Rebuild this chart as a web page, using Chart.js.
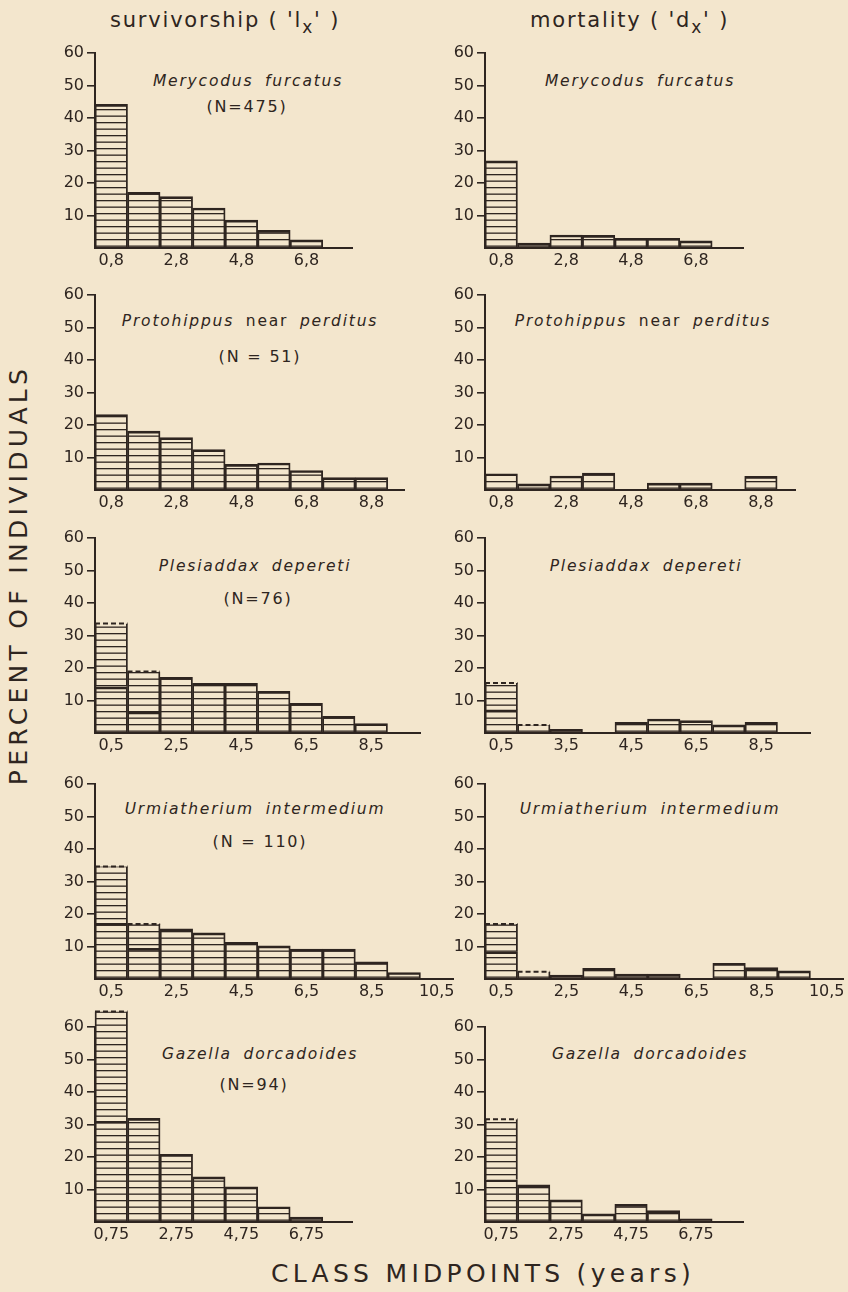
<!DOCTYPE html>
<html><head><meta charset="utf-8">
<script src="https://cdn.jsdelivr.net/npm/chart.js@4.4.1/dist/chart.umd.min.js"></script>
<style>
html,body{margin:0;padding:0;background:#f3e6cd;}
body{width:848px;height:1292px;position:relative;overflow:hidden;font-family:"DejaVu Sans",sans-serif;color:#2e2520;}
canvas{position:absolute;}
.t{position:absolute;white-space:nowrap;line-height:1;}
.title{font-size:21px;letter-spacing:1.8px;}
.title sub{font-size:17px;vertical-align:-6px;line-height:0;}
.sp{font-size:15.5px;font-style:italic;letter-spacing:1.8px;word-spacing:5px;transform:translateX(-50%);}
.sp span{font-style:normal;}
.nn{font-size:16px;letter-spacing:1.8px;transform:translateX(-50%);}
.big{font-size:25px;letter-spacing:4.3px;}
</style></head><body>

<div class="t title" style="left:110px;top:10px">survivorship ( 'l<sub>x</sub>' )</div>
<div class="t title" style="left:530px;top:10px">mortality ( 'd<sub>x</sub>' )</div>

<div class="t sp" style="left:248px;top:74px">Merycodus furcatus</div>
<div class="t nn" style="left:247px;top:99px">(N=475)</div>
<div class="t sp" style="left:640px;top:74px">Merycodus furcatus</div>

<div class="t sp" style="left:250px;top:314px">Protohippus <span>near</span> perditus</div>
<div class="t nn" style="left:260px;top:349px">(N = 51)</div>
<div class="t sp" style="left:643px;top:314px">Protohippus <span>near</span> perditus</div>

<div class="t sp" style="left:255px;top:559px">Plesiaddax depereti</div>
<div class="t nn" style="left:258px;top:591px">(N=76)</div>
<div class="t sp" style="left:646px;top:559px">Plesiaddax depereti</div>

<div class="t sp" style="left:255px;top:802px">Urmiatherium intermedium</div>
<div class="t nn" style="left:260px;top:834px">(N = 110)</div>
<div class="t sp" style="left:650px;top:802px">Urmiatherium intermedium</div>

<div class="t sp" style="left:260px;top:1047px">Gazella dorcadoides</div>
<div class="t nn" style="left:254px;top:1077px">(N=94)</div>
<div class="t sp" style="left:650px;top:1047px">Gazella dorcadoides</div>

<div class="t big" style="left:18px;top:575px;transform:translate(-50%,-50%) rotate(-90deg);">PERCENT OF INDIVIDUALS</div>
<div class="t big" style="left:483px;top:1261px;transform:translateX(-50%);">CLASS MIDPOINTS (years)</div>

<script>
// ---------- DATA ----------
// Merycodus furcatus
const meryMid = [0.8, 1.8, 2.8, 3.8, 4.8, 5.8, 6.8];
const meryTicks = [0.8, 2.8, 4.8, 6.8];
const meryTickLabels = ['0,8', '2,8', '4,8', '6,8'];
const meryLx = [44.2, 17.1, 15.8, 12.3, 8.6, 5.4, 2.5];
const meryDx = [26.8, 1.5, 4.0, 3.9, 3.0, 3.0, 2.2];

// Protohippus near perditus
const protoMid = [0.8, 1.8, 2.8, 3.8, 4.8, 5.8, 6.8, 7.8, 8.8];
const protoTicks = [0.8, 2.8, 4.8, 6.8, 8.8];
const protoTickLabels = ['0,8', '2,8', '4,8', '6,8', '8,8'];
const protoLx = [23.2, 18.1, 16.1, 12.4, 7.9, 8.3, 6.0, 3.8, 3.8];
const protoDx = [5.0, 1.9, 4.3, 5.2, 0, 2.1, 2.1, 0, 4.2];

// Plesiaddax depereti
const plesMid = [0.5, 1.5, 2.5, 3.5, 4.5, 5.5, 6.5, 7.5, 8.5];
const plesTicks = [0.5, 2.5, 4.5, 6.5, 8.5];
const plesLxTickLabels = ['0,5', '2,5', '4,5', '6,5', '8,5'];
const plesDxTickLabels = ['0,5', '3,5', '4,5', '6,5', '8,5'];
const plesLx = [14.2, 6.5, 17.1, 15.3, 15.3, 12.8, 9.1, 5.1, 2.9];
const plesLxEst = [33.7, 18.9, null, null, null, null, null, null, null];
const plesDx = [7.1, 0, 1.1, 0, 3.3, 4.3, 3.8, 2.5, 3.3];
const plesDxEst = [15.4, 2.5, null, null, null, null, null, null, null];

// Urmiatherium intermedium
const urmiMid = [0.5, 1.5, 2.5, 3.5, 4.5, 5.5, 6.5, 7.5, 8.5, 9.5];
const urmiTicks = [0.5, 2.5, 4.5, 6.5, 8.5, 10.5];
const urmiTickLabels = ['0,5', '2,5', '4,5', '6,5', '8,5', '10,5'];
const urmiLx = [17.1, 9.4, 15.4, 14.2, 11.3, 10.2, 9.2, 9.2, 5.3, 2.0];
const urmiLxEst = [34.6, 16.9, null, null, null, null, null, null, null, null];
const urmiDx = [8.4, 0, 1.2, 3.3, 1.5, 1.5, 0, 4.8, 3.5, 2.5];
const urmiDxEst = [16.9, 2.2, null, null, null, null, null, null, null, null];

// Gazella dorcadoides
const gazMid = [0.75, 1.75, 2.75, 3.75, 4.75, 5.75, 6.75];
const gazTicks = [0.75, 2.75, 4.75, 6.75];
const gazTickLabels = ['0,75', '2,75', '4,75', '6,75'];
const gazLx = [31.0, 31.9, 20.8, 13.9, 10.8, 4.7, 1.5];
const gazLxEst = [64.8, null, null, null, null, null, null];
const gazDx = [13.0, 11.4, 6.8, 2.5, 5.4, 3.5, 1.0];
const gazDxEst = [31.6, null, null, null, null, null, null];

const yTicks = [10, 20, 30, 40, 50, 60];

// ---------- LAYOUT / STYLE ----------
const INK = '#2e2520';
const PX_PER_YEAR = 32.5;
const PLOT_H = 195;
const PAD_TOP = 24, X_AXIS_H = 25, Y_AXIS_W = 50, PAD_RIGHT = 25;
const colLeft = [45, 435];
const rowBase = [248, 490, 733, 979, 1222];

const panels = [
  {row:0, col:0, mid:meryMid,  vals:meryLx,  est:null,      xmin:0.3,  xmax:8.2,  ticks:meryTicks,  labels:meryTickLabels},
  {row:0, col:1, mid:meryMid,  vals:meryDx,  est:null,      xmin:0.3,  xmax:8.25, ticks:meryTicks,  labels:meryTickLabels},
  {row:1, col:0, mid:protoMid, vals:protoLx, est:null,      xmin:0.3,  xmax:9.8,  ticks:protoTicks, labels:protoTickLabels},
  {row:1, col:1, mid:protoMid, vals:protoDx, est:null,      xmin:0.3,  xmax:9.85, ticks:protoTicks, labels:protoTickLabels},
  {row:2, col:0, mid:plesMid,  vals:plesLx,  est:plesLxEst, xmin:0,    xmax:10,   ticks:plesTicks,  labels:plesLxTickLabels},
  {row:2, col:1, mid:plesMid,  vals:plesDx,  est:plesDxEst, xmin:0,    xmax:10,   ticks:plesTicks,  labels:plesDxTickLabels},
  {row:3, col:0, mid:urmiMid,  vals:urmiLx,  est:urmiLxEst, xmin:0,    xmax:11,   ticks:urmiTicks,  labels:urmiTickLabels},
  {row:3, col:1, mid:urmiMid,  vals:urmiDx,  est:urmiDxEst, xmin:0,    xmax:11,   ticks:urmiTicks,  labels:urmiTickLabels},
  {row:4, col:0, mid:gazMid,   vals:gazLx,   est:gazLxEst,  xmin:0.25, xmax:8.15, ticks:gazTicks,   labels:gazTickLabels},
  {row:4, col:1, mid:gazMid,   vals:gazDx,   est:gazDxEst,  xmin:0.25, xmax:8.2,  ticks:gazTicks,   labels:gazTickLabels}
];

function makeHatch() {
  const c = document.createElement('canvas');
  c.width = 8; c.height = 13;
  const g = c.getContext('2d');
  g.fillStyle = INK;
  g.fillRect(0, 2, 8, 1.3);
  g.fillRect(0, 8.5, 8, 1.3);
  return g.createPattern(c, 'repeat');
}
const hatch = makeHatch();

const dashTopPlugin = {
  id: 'dashTop',
  afterDatasetsDraw(chart) {
    const ctx = chart.ctx;
    chart.data.datasets.forEach((ds, i) => {
      if (!ds.dashTop) return;
      const meta = chart.getDatasetMeta(i);
      meta.data.forEach((el, j) => {
        const raw = ds.data[j];
        if (!raw || raw.y == null) return;
        const p = el.getProps(['x', 'y', 'width'], true);
        ctx.save();
        ctx.strokeStyle = INK;
        ctx.lineWidth = 2;
        ctx.setLineDash([5, 3]);
        ctx.beginPath();
        ctx.moveTo(p.x - p.width / 2, p.y);
        ctx.lineTo(p.x + p.width / 2, p.y);
        ctx.stroke();
        ctx.restore();
      });
    });
  }
};

panels.forEach(p => {
  const cv = document.createElement('canvas');
  const w = Math.round(Y_AXIS_W + (p.xmax - p.xmin) * PX_PER_YEAR + PAD_RIGHT);
  const h = PAD_TOP + PLOT_H + X_AXIS_H;
  cv.width = w; cv.height = h;
  cv.style.left = colLeft[p.col] + 'px';
  cv.style.top = (rowBase[p.row] - PLOT_H - PAD_TOP) + 'px';
  cv.style.width = w + 'px'; cv.style.height = h + 'px';
  document.body.appendChild(cv);

  const datasets = [{
    data: p.mid.map((m, i) => ({x: m, y: p.vals[i]})),
    backgroundColor: hatch,
    borderColor: INK,
    borderWidth: {top: 2, left: 1.2, right: 1.2, bottom: 0},
    borderSkipped: false,
    grouped: false,
    barPercentage: 1,
    categoryPercentage: 1,
    clip: false
  }];
  if (p.est) {
    datasets.push({
      data: p.mid.map((m, i) => ({x: m, y: p.est[i] == null ? null : [p.vals[i], p.est[i]]})),
      backgroundColor: hatch,
      borderColor: INK,
      borderWidth: {top: 0, left: 1.2, right: 1.2, bottom: 0},
      borderSkipped: false,
      grouped: false,
      barPercentage: 1,
      categoryPercentage: 1,
      clip: false,
      dashTop: true
    });
  }

  new Chart(cv, {
    type: 'bar',
    data: {datasets},
    plugins: [dashTopPlugin],
    options: {
      responsive: false,
      animation: false,
      devicePixelRatio: 1,
      layout: {padding: {top: PAD_TOP, right: PAD_RIGHT, left: 0, bottom: 0}},
      plugins: {legend: {display: false}, tooltip: {enabled: false}},
      scales: {
        x: {
          type: 'linear',
          min: p.xmin, max: p.xmax,
          offset: false,
          afterBuildTicks: s => { s.ticks = p.ticks.map(v => ({value: v})); },
          afterFit: s => { s.height = X_AXIS_H; },
          ticks: {
            callback: (v, i) => p.labels[i],
            color: INK, font: {family: 'DejaVu Sans', size: 16}, padding: 3,
            maxRotation: 0, autoSkip: false
          },
          grid: {display: true, drawOnChartArea: false, drawTicks: false, color: 'rgba(0,0,0,0)'},
          border: {display: true, color: INK, width: 2}
        },
        y: {
          type: 'linear',
          min: 0, max: 60,
          afterBuildTicks: s => { s.ticks = [0].concat(yTicks).map(v => ({value: v})); },
          afterFit: s => { s.width = Y_AXIS_W; },
          ticks: {
            callback: v => (v === 0 ? '' : String(v)),
            color: INK, font: {family: 'DejaVu Sans', size: 16}, padding: 3
          },
          grid: {
            drawOnChartArea: false, drawTicks: true, tickLength: 8, lineWidth: 1.6,
            color: c => (c.tick && c.tick.value === 0 ? 'rgba(0,0,0,0)' : INK)
          },
          border: {display: true, color: INK, width: 2}
        }
      }
    }
  });
});
</script>
</body></html>
